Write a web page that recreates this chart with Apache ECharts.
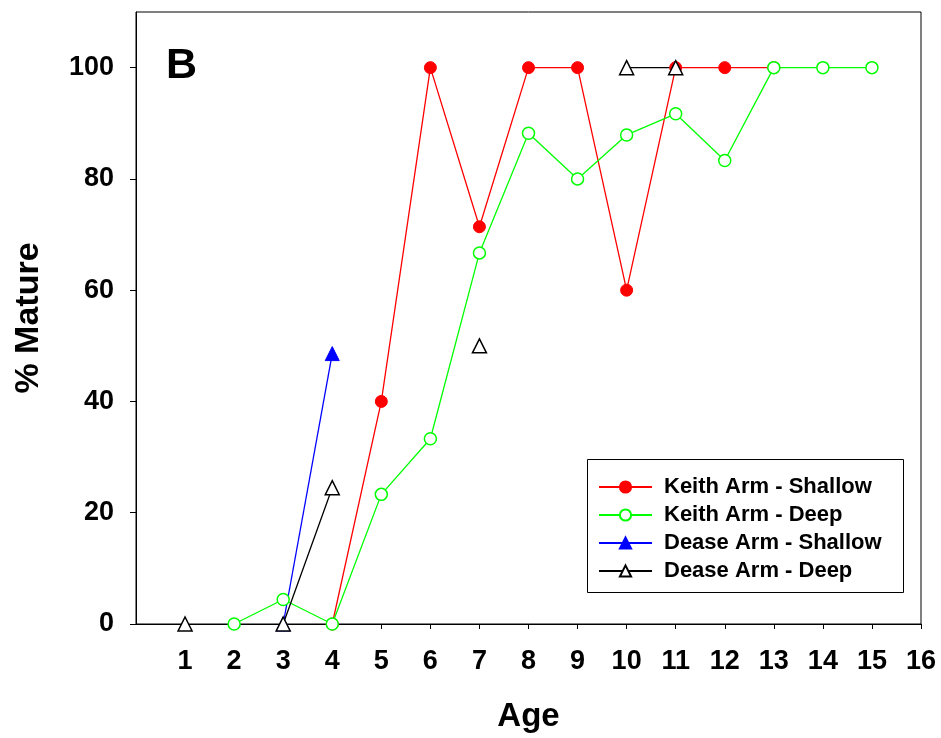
<!DOCTYPE html>
<html><head><meta charset="utf-8">
<script src="https://cdn.jsdelivr.net/npm/echarts@6/dist/echarts.min.js"></script>
<style>html,body{margin:0;padding:0;background:#fff}#c{width:941px;height:738px}</style>
</head><body><div id="c"></div>
<script>
const xTicks = [1,2,3,4,5,6,7,8,9,10,11,12,13,14,15,16];
const yTicks = [0,20,40,60,80,100];

const keithShallowAge = [4,5,6,7,8,9,10,11,12,13];
const keithShallowVal = [0,40,100,71.4,100,100,60,100,100,100];

const keithDeepAge = [2,3,4,5,6,7,8,9,10,11,12,13,14,15];
const keithDeepVal = [0,4.4,0,23.3,33.3,66.7,88.2,80,87.9,91.7,83.3,100,100,100];

const deaseShallowAge = [3,4];
const deaseShallowVal = [0,48.6];

const deaseDeepAge = [1,2,3,4,5,6,7,8,9,10,11];
const deaseDeepVal = [0,null,0,24.5,null,null,50,null,null,100,100];

const pairs = (a, v) => a.map((x, i) => [x, v[i] === null ? '-' : v[i]]);
const FONT = 'Liberation Sans, Arial, sans-serif';

const chart = echarts.init(document.getElementById('c'), null, {renderer: 'canvas'});
chart.setOption({
  animation: false,
  backgroundColor: '#fff',
  grid: {left: 136, top: 12, right: 20, bottom: 113, show: true, borderColor: '#000', borderWidth: 1, backgroundColor: 'transparent'},
  xAxis: {
    type: 'value', min: 0, max: 16, interval: 1,
    name: 'Age', nameLocation: 'middle', nameGap: 76,
    nameTextStyle: {fontFamily: FONT, fontWeight: 'bold', fontSize: 33, color: '#000'},
    axisLine: {onZero: false, lineStyle: {color: '#000', width: 1}},
    axisTick: {show: true, inside: false, length: 5, lineStyle: {color: '#000'}, customValues: xTicks},
    axisLabel: {fontFamily: FONT, fontWeight: 'bold', fontSize: 27, color: '#000', margin: 24, customValues: xTicks},
    splitLine: {show: false}
  },
  yAxis: {
    type: 'value', min: 0, max: 110, interval: 20,
    name: '% Mature', nameLocation: 'middle', nameGap: 90, nameRotate: 90,
    nameTextStyle: {fontFamily: FONT, fontWeight: 'bold', fontSize: 34, color: '#000'},
    axisLine: {onZero: false, lineStyle: {color: '#000', width: 1}},
    axisTick: {show: true, inside: false, length: 6, lineStyle: {color: '#000'}, customValues: yTicks},
    axisLabel: {fontFamily: FONT, fontWeight: 'bold', fontSize: 27, color: '#000', margin: 22, customValues: yTicks},
    splitLine: {show: false}
  },
  legend: {
    orient: 'vertical', left: 587, top: 459,
    padding: [17, 15, 10, 11], itemGap: 6, itemWidth: 53, itemHeight: 14,
    textStyle: {fontFamily: FONT, fontWeight: 'bold', fontSize: 22, lineHeight: 22, color: '#000', padding: [0,0,0,7]},
    data: ['Keith Arm - Shallow', 'Keith Arm - Deep', 'Dease Arm - Shallow', 'Dease Arm - Deep']
  },
  graphic: [
    {type: 'rect', left: 587, top: 459, z: 0, shape: {width: 316, height: 133}, style: {fill: '#fff', stroke: '#000', lineWidth: 1}},
    {type: 'text', left: 166, top: 45, style: {text: 'B', font: 'bold 43px ' + FONT, fill: '#000'}}
  ],
  series: [
    {name: 'Keith Arm - Shallow', type: 'line', data: pairs(keithShallowAge, keithShallowVal),
      symbol: 'circle', symbolSize: 12, lineStyle: {color: '#ff0000', width: 1.3},
      itemStyle: {color: '#ff0000', borderColor: '#ff0000', borderWidth: 1}},
    {name: 'Keith Arm - Deep', type: 'line', data: pairs(keithDeepAge, keithDeepVal),
      symbol: 'circle', symbolSize: 12, lineStyle: {color: '#00ff00', width: 1.3},
      itemStyle: {color: '#ffffff', borderColor: '#00ff00', borderWidth: 1.5}},
    {name: 'Dease Arm - Shallow', type: 'line', data: pairs(deaseShallowAge, deaseShallowVal),
      symbol: 'triangle', symbolSize: 14, lineStyle: {color: '#0000ff', width: 1.3},
      itemStyle: {color: '#0000ff', borderColor: '#0000ff', borderWidth: 1}},
    {name: 'Dease Arm - Deep', type: 'line', data: pairs(deaseDeepAge, deaseDeepVal), connectNulls: false,
      symbol: 'triangle', symbolSize: 14, lineStyle: {color: '#000000', width: 1.3},
      itemStyle: {color: '#ffffff', borderColor: '#000000', borderWidth: 1.5}}
  ]
});
</script></body></html>
